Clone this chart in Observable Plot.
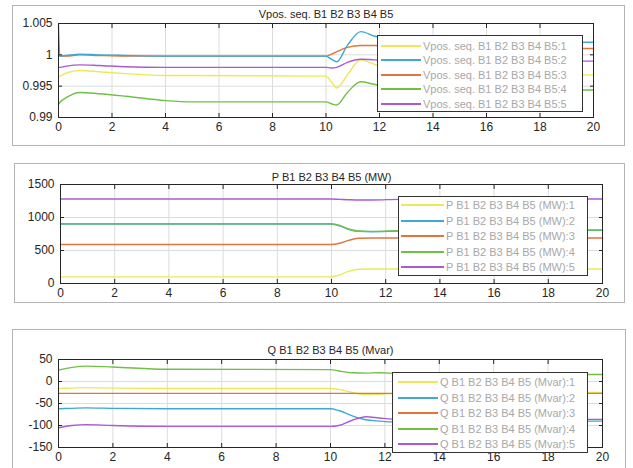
<!DOCTYPE html>
<html><head><meta charset="utf-8">
<script src="https://cdn.jsdelivr.net/npm/d3@7"></script>
<script src="https://cdn.jsdelivr.net/npm/@observablehq/plot@0.6"></script>
<style>
body{margin:0;background:#fff;width:633px;height:468px;overflow:hidden;position:relative;font-family:"Liberation Sans",Arial,sans-serif;}
.frame{position:absolute;border:1px solid #b4b4b4;box-sizing:border-box;}
.panel{position:absolute;left:0;}
.legend{position:absolute;background:#fff;border:1px solid #333;box-sizing:border-box;}
.row{position:absolute;left:0;height:14px;display:flex;align-items:center;font-size:11px;color:#a8a8a8;white-space:nowrap;}
.row span.ln{display:inline-block;height:2px;}
</style></head><body>
<script>
// ---------- data ----------
const xTicks = [0, 2, 4, 6, 8, 10, 12, 14, 16, 18, 20];

// Panel 1: Vpos. seq.
const vTitle = "Vpos. seq. B1 B2 B3 B4 B5";
const vTicks = [0.99, 0.995, 1, 1.005];
const tV = [0, 0.05, 0.3, 0.8, 1.5, 2.5, 4, 5, 10, 10.2, 10.4, 10.8, 11.3, 11.8, 12.5, 14, 16, 20];
const v1 = [0.9965, 0.9966, 0.9971, 0.9975, 0.9973, 0.9970, 0.9967, 0.9967, 0.9966, 0.9957, 0.9947, 0.9968, 0.9992, 0.9985, 0.9975, 0.9969, 0.9968, 0.9968];
const v2 = [0.9999, 0.9998, 0.9999, 1.0001, 1.0000, 0.9999, 0.9998, 0.9998, 0.9998, 0.9993, 0.9989, 1.0015, 1.0037, 1.0030, 1.0024, 1.0021, 1.0020, 1.0020];
const v3 = [1.0048, 0.9998, 0.9998, 1.0000, 0.9999, 0.9998, 0.9998, 0.9998, 0.9998, 1.0001, 1.0005, 1.0012, 1.0015, 1.0015, 1.0013, 1.0011, 1.0010, 1.0010];
const v4 = [0.9921, 0.9924, 0.9932, 0.9940, 0.9938, 0.9934, 0.9927, 0.9925, 0.9925, 0.9922, 0.9920, 0.9940, 0.9957, 0.9953, 0.9948, 0.9945, 0.9944, 0.9944];
const v5 = [0.9980, 0.9980, 0.9982, 0.9984, 0.9983, 0.9981, 0.9980, 0.9980, 0.9980, 0.9979, 0.9980, 0.9988, 0.9993, 0.9992, 0.9991, 0.9990, 0.9990, 0.9990];
const vNames = ["Vpos. seq. B1 B2 B3 B4 B5:1", "Vpos. seq. B1 B2 B3 B4 B5:2", "Vpos. seq. B1 B2 B3 B4 B5:3", "Vpos. seq. B1 B2 B3 B4 B5:4", "Vpos. seq. B1 B2 B3 B4 B5:5"];

// Panel 2: P (MW)
const pTitle = "P B1 B2 B3 B4 B5 (MW)";
const pTicks = [0, 500, 1000, 1500];
const tP = [0, 10, 10.3, 10.6, 11, 11.5, 12.5, 14, 20];
const p1 = [100, 100, 130, 180, 215, 220, 220, 220, 220];
const p2 = [900, 900, 875, 825, 790, 785, 795, 800, 805];
const p3 = [590, 590, 610, 650, 685, 690, 690, 690, 690];
const p4 = [905, 905, 880, 830, 795, 790, 800, 805, 810];
const p5 = [1280, 1280, 1275, 1270, 1265, 1265, 1275, 1278, 1280];
const pNames = ["P B1 B2 B3 B4 B5 (MW):1", "P B1 B2 B3 B4 B5 (MW):2", "P B1 B2 B3 B4 B5 (MW):3", "P B1 B2 B3 B4 B5 (MW):4", "P B1 B2 B3 B4 B5 (MW):5"];

// Panel 3: Q (Mvar)
const qTitle = "Q B1 B2 B3 B4 B5 (Mvar)";
const qTicks = [-150, -100, -50, 0, 50];
const tQ = [0, 0.5, 1, 2, 4, 10, 10.3, 10.8, 11.3, 11.8, 12.5, 14, 20];
const q1 = [-16, -15, -14, -15, -16, -16, -18, -25, -30, -29, -27, -26, -25];
const q2 = [-62, -61, -60, -61, -62, -62, -66, -78, -87, -90, -92, -91, -90];
const q3 = [-27, -27, -27, -27, -27, -27, -27, -27, -27, -27, -27, -27, -27];
const q4 = [26, 32, 35, 33, 28, 27, 24, 20, 19, 20, 18, 17, 16];
const q5 = [-105, -100, -98, -100, -102, -102, -100, -88, -80, -83, -86, -86, -86];
const qNames = ["Q B1 B2 B3 B4 B5 (Mvar):1", "Q B1 B2 B3 B4 B5 (Mvar):2", "Q B1 B2 B3 B4 B5 (Mvar):3", "Q B1 B2 B3 B4 B5 (Mvar):4", "Q B1 B2 B3 B4 B5 (Mvar):5"];

const colors = ["#eaea58", "#3ea8d6", "#e2743e", "#70c046", "#a95ad6"];

// ---------- drawing ----------
function frame(l, t, r, b) {
  const d = document.createElement("div");
  d.className = "frame";
  Object.assign(d.style, {left: l + "px", top: t + "px", width: (r - l) + "px", height: (b - t) + "px"});
  document.body.appendChild(d);
}

function panel(cfg) {
  const rows = [];
  cfg.series.forEach((vals, i) => vals.forEach((v, j) => rows.push({t: cfg.t[j], v, s: i})));
  const order = cfg.order || [0, 1, 2, 3, 4];
  const chart = Plot.plot({
    width: 633, height: cfg.height,
    marginLeft: cfg.ml, marginRight: cfg.mr, marginTop: cfg.mt, marginBottom: cfg.mb,
    style: {fontFamily: "'Liberation Sans', Arial, sans-serif", fontSize: "12px", color: "#262626", background: "transparent", overflow: "visible"},
    x: {domain: [0, 20], label: null},
    y: {domain: cfg.yDomain, label: null},
    marks: [
      Plot.gridX(xTicks, {stroke: "#dcdcdc", strokeOpacity: 1}),
      Plot.gridY(cfg.yTicks, {stroke: "#dcdcdc", strokeOpacity: 1}),
      ...order.map(i => Plot.line(rows.filter(r => r.s === i), {x: "t", y: "v", stroke: colors[i], strokeWidth: 1.4, curve: "monotone-x"})),
      Plot.frame({stroke: "#262626"}),
      Plot.axisX(xTicks, {anchor: "bottom", tickSize: -4, tickPadding: 9, fontSize: 12}),
      Plot.axisX(xTicks, {anchor: "top", tickSize: -4, tickFormat: () => ""}),
      Plot.axisY(cfg.yTicks, {anchor: "left", tickSize: -4, tickPadding: 10, tickFormat: cfg.fmt, fontSize: 12}),
      Plot.axisY(cfg.yTicks, {anchor: "right", tickSize: -4, tickFormat: () => ""}),
      Plot.text([cfg.title], {frameAnchor: "top", lineAnchor: "bottom", dy: cfg.titleDy, fontSize: 11, fill: "#262626"})
    ]
  });
  const wrap = document.createElement("div");
  wrap.className = "panel";
  wrap.style.top = cfg.top + "px";
  wrap.appendChild(chart);
  document.body.appendChild(wrap);

  const lg = document.createElement("div");
  lg.className = "legend";
  Object.assign(lg.style, {left: cfg.lg.x + "px", top: cfg.lg.y + "px", width: cfg.lg.w + "px", height: cfg.lg.h + "px"});
  cfg.names.forEach((name, i) => {
    const r = document.createElement("div");
    r.className = "row";
    r.style.top = (cfg.lg.r0 + cfg.lg.dr * i - 7) + "px";
    const ln = document.createElement("span");
    ln.className = "ln";
    Object.assign(ln.style, {marginLeft: cfg.lg.l0 + "px", width: cfg.lg.lw + "px", background: colors[i], marginRight: "2px"});
    const tx = document.createElement("span");
    tx.textContent = name;
    r.appendChild(ln); r.appendChild(tx);
    lg.appendChild(r);
  });
  document.body.appendChild(lg);
}

frame(12, 5, 625, 146);
frame(14, 163, 625, 303);
frame(12, 329, 626, 480);

panel({top: 0, height: 140, ml: 58, mr: 40, mt: 23, mb: 23, t: tV, series: [v1, v2, v3, v4, v5],
  yDomain: [0.99, 1.005], yTicks: vTicks, fmt: d => String(+d.toFixed(3)), title: vTitle, titleDy: -6, names: vNames,
  order: [0, 4, 3, 2, 1],
  lg: {x: 377, y: 35, w: 206, h: 77, r0: 10, dr: 14.4, l0: 3, lw: 40}});

panel({top: 160, height: 145, ml: 60, mr: 31, mt: 24, mb: 22, t: tP, series: [p1, p2, p3, p4, p5],
  yDomain: [0, 1500], yTicks: pTicks, fmt: d => String(d), title: pTitle, titleDy: -4, names: pNames,
  lg: {x: 398, y: 196, w: 190, h: 80, r0: 8, dr: 15.5, l0: 2, lw: 43}});

panel({top: 315, height: 153, ml: 58, mr: 31, mt: 44, mb: 21, t: tQ, series: [q1, q2, q3, q4, q5],
  yDomain: [-150, 50], yTicks: qTicks, fmt: d => String(d), title: qTitle, titleDy: -6, names: qNames,
  lg: {x: 392, y: 372, w: 196, h: 81, r0: 9, dr: 15.5, l0: 5, lw: 40}});
</script>
</body></html>
